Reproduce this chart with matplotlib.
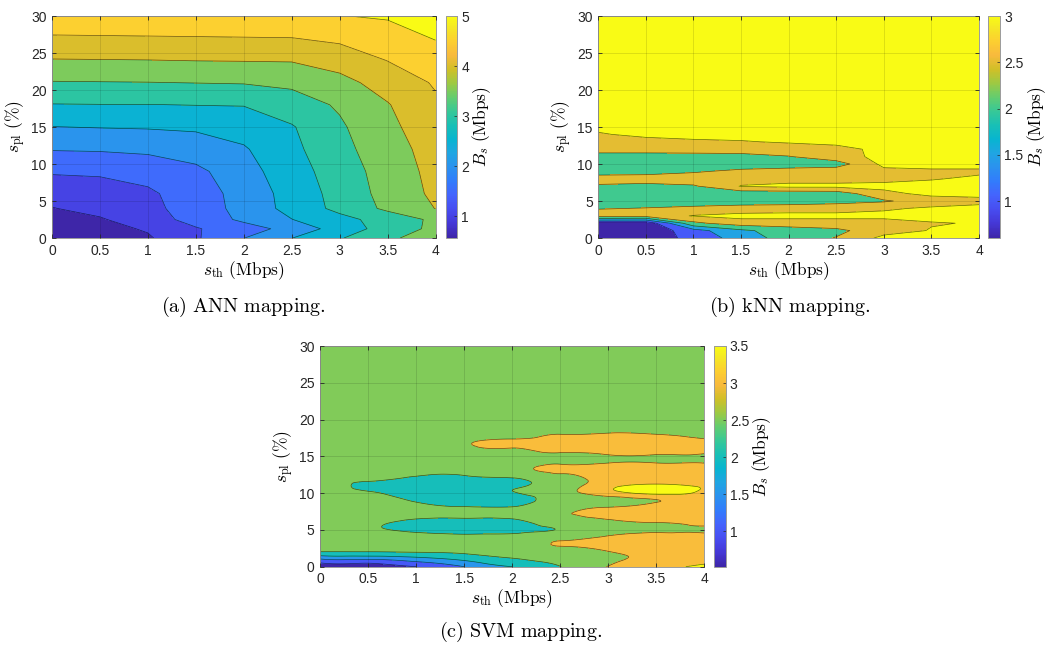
import matplotlib
matplotlib.use("Agg")
import matplotlib.pyplot as plt
import matplotlib.tri as mtri
import numpy as np
from matplotlib.colors import LinearSegmentedColormap, Normalize
from matplotlib.cm import ScalarMappable

plt.rcParams["mathtext.fontset"] = "cm"
plt.rcParams["font.family"] = ["Liberation Sans", "DejaVu Sans"]

# ---- data ----
sth = [0, 0.5, 1, 1.5, 2, 2.5, 3, 3.5, 4]  # s_th (Mbps), grid columns

# (a) ANN mapping
ann_spl = [0, 1.25, 2.5, 4, 6, 9, 12, 15, 18, 21, 24, 27, 30]
ann_bs = [
    [0.56, 0.75, 0.94, 1.44, 1.99, 2.49, 2.96, 3.40, 3.78],
    [0.69, 0.85, 1.05, 1.46, 1.78, 2.17, 2.72, 3.21, 3.62],
    [0.82, 0.95, 1.28, 1.67, 2.10, 2.49, 2.84, 3.21, 3.60],
    [0.98, 1.16, 1.38, 1.70, 2.18, 2.66, 3.14, 3.60, 4.01],
    [1.20, 1.28, 1.42, 1.75, 2.19, 2.69, 3.18, 3.67, 4.10],
    [1.55, 1.57, 1.68, 1.88, 2.31, 2.78, 3.25, 3.71, 4.15],
    [2.03, 2.05, 2.10, 2.25, 2.45, 2.88, 3.35, 3.79, 4.20],
    [2.49, 2.52, 2.54, 2.57, 2.70, 2.96, 3.43, 3.88, 4.30],
    [2.98, 2.99, 2.99, 3.01, 3.02, 3.27, 3.56, 3.97, 4.42],
    [3.47, 3.48, 3.49, 3.51, 3.53, 3.60, 3.85, 4.20, 4.55],
    [3.97, 3.98, 3.99, 4.01, 4.02, 4.03, 4.20, 4.51, 4.80],
    [4.44, 4.45, 4.46, 4.47, 4.48, 4.49, 4.60, 4.82, 5.02],
    [4.85, 4.86, 4.87, 4.88, 4.90, 4.94, 4.99, 5.04, 5.10],
]

# (b) kNN mapping
knn_spl = [0, 1, 2, 3, 4, 5, 6, 7, 8, 9, 10, 11, 12, 13, 14, 15, 30]
knn_bs = [
    [0.60, 0.60, 1.20, 1.70, 2.25, 2.52, 3.00, 3.00, 3.00],
    [0.60, 0.60, 1.30, 1.90, 2.25, 2.40, 2.75, 2.92, 3.00],
    [0.60, 0.60, 2.40, 2.75, 2.75, 2.75, 2.75, 2.88, 2.92],
    [2.75, 2.70, 2.92, 3.00, 3.00, 3.00, 3.00, 3.00, 3.00],
    [2.47, 2.52, 2.60, 2.70, 2.75, 2.75, 2.85, 2.95, 3.00],
    [2.25, 2.25, 2.25, 2.25, 2.25, 2.35, 2.45, 2.70, 2.80],
    [2.25, 2.25, 2.25, 2.25, 2.25, 2.28, 2.80, 3.00, 3.00],
    [2.42, 2.35, 2.45, 2.92, 3.00, 3.00, 3.00, 3.00, 3.00],
    [2.75, 2.75, 2.75, 2.75, 2.75, 2.75, 2.80, 2.88, 2.95],
    [2.25, 2.30, 2.45, 2.60, 2.70, 2.75, 2.80, 2.85, 2.85],
    [2.25, 2.25, 2.25, 2.25, 2.25, 2.30, 3.00, 3.00, 3.00],
    [2.25, 2.25, 2.28, 2.32, 2.48, 2.75, 3.00, 3.00, 3.00],
    [2.75, 2.75, 2.75, 2.75, 2.75, 2.78, 3.00, 3.00, 3.00],
    [2.75, 2.75, 2.85, 2.88, 2.93, 3.00, 3.00, 3.00, 3.00],
    [2.86, 3.00, 3.00, 3.00, 3.00, 3.00, 3.00, 3.00, 3.00],
    [3.00, 3.00, 3.00, 3.00, 3.00, 3.00, 3.00, 3.00, 3.00],
    [3.00, 3.00, 3.00, 3.00, 3.00, 3.00, 3.00, 3.00, 3.00],
]

# (c) SVM mapping
svm_spl = [0, 1, 2, 3, 4, 5, 6, 7, 8, 9, 10, 11, 12, 13, 14, 15, 16, 17, 18, 19, 20, 25, 30]
svm_bs = [
    [0.52, 0.70, 1.00, 1.50, 2.00, 2.49, 3.02, 3.30, 3.70],
    [1.45, 1.50, 1.75, 2.10, 2.45, 2.65, 2.90, 3.10, 3.20],
    [2.48, 2.48, 2.52, 2.58, 2.68, 2.85, 2.98, 3.15, 3.20],
    [2.65, 2.67, 2.70, 2.72, 2.80, 3.02, 3.15, 3.20, 3.20],
    [2.70, 2.68, 2.63, 2.60, 2.62, 2.85, 3.05, 3.12, 3.12],
    [2.72, 2.58, 2.42, 2.36, 2.40, 2.52, 2.88, 2.95, 2.95],
    [2.72, 2.58, 2.40, 2.35, 2.40, 2.70, 2.93, 3.00, 3.08],
    [2.72, 2.70, 2.62, 2.60, 2.62, 2.92, 3.12, 3.20, 3.20],
    [2.72, 2.70, 2.66, 2.55, 2.55, 2.82, 3.05, 3.20, 3.20],
    [2.70, 2.65, 2.45, 2.30, 2.30, 2.68, 2.65, 2.98, 3.20],
    [2.70, 2.55, 2.32, 2.28, 2.47, 2.80, 3.30, 3.62, 3.40],
    [2.65, 2.42, 2.30, 2.28, 2.42, 2.78, 3.35, 3.62, 3.40],
    [2.70, 2.60, 2.40, 2.38, 2.47, 2.88, 3.15, 3.25, 3.20],
    [2.70, 2.70, 2.70, 2.70, 2.88, 3.05, 3.15, 3.20, 3.15],
    [2.70, 2.70, 2.72, 2.75, 2.88, 2.99, 3.02, 3.02, 3.01],
    [2.72, 2.73, 2.75, 2.80, 2.85, 2.92, 2.96, 2.97, 2.95],
    [2.75, 2.75, 2.77, 2.88, 2.98, 3.10, 3.12, 3.12, 3.08],
    [2.75, 2.75, 2.78, 2.93, 3.05, 3.10, 3.12, 3.12, 3.05],
    [2.75, 2.75, 2.75, 2.77, 2.85, 3.00, 3.03, 3.00, 2.90],
    [2.75, 2.75, 2.75, 2.75, 2.77, 2.80, 2.82, 2.80, 2.78],
    [2.75, 2.75, 2.75, 2.75, 2.75, 2.75, 2.75, 2.75, 2.75],
    [2.75, 2.75, 2.75, 2.75, 2.75, 2.75, 2.75, 2.75, 2.75],
    [2.75, 2.75, 2.75, 2.75, 2.75, 2.75, 2.75, 2.75, 2.75],
]

# colour limits and contour levels (as on the colour bars)
ann_clim = (0.56, 5.0)
knn_clim = (0.6, 3.0)
svm_clim = (0.52, 3.5)
ann_levels = [1, 1.5, 2, 2.5, 3, 3.5, 4, 4.5, 5]
knn_levels = [1, 1.5, 2, 2.5, 2.9]
knn_band_lows = [1, 1.5, 2, 2.5, 3]
svm_levels = [1, 1.5, 2, 2.5, 3, 3.5]
ann_cticks = [1, 2, 3, 4, 5]
knn_cticks = [1, 1.5, 2, 2.5, 3]
svm_cticks = [1, 1.5, 2, 2.5, 3, 3.5]

# MATLAB parula (sampled)
parula_pts = [
    (0.2422, 0.1504, 0.6603), (0.2706, 0.2147, 0.8364), (0.2813, 0.3006, 0.9414),
    (0.2699, 0.3892, 0.9906), (0.1963, 0.4847, 0.9892), (0.1687, 0.5703, 0.9359),
    (0.1248, 0.6459, 0.8883), (0.0297, 0.7082, 0.8163), (0.0964, 0.7500, 0.7120),
    (0.2161, 0.7843, 0.5923), (0.3909, 0.8029, 0.4354), (0.6174, 0.7876, 0.2612),
    (0.8203, 0.7498, 0.1535), (0.9728, 0.7298, 0.2394), (0.9892, 0.8136, 0.1885),
    (0.9597, 0.9135, 0.1423), (0.9769, 0.9839, 0.0805),
]
pos = [i * 4 / 63 for i in range(16)] + [1.0]
parula = LinearSegmentedColormap.from_list("parula", list(zip(pos, parula_pts)))

W, H = 1047, 648
fig = plt.figure(figsize=(W / 100, H / 100), dpi=100)


def box(x0, y0, x1, y1):
    return [x0 / W, 1 - y1 / H, (x1 - x0) / W, (y1 - y0) / H]


def band_colors(lows, clim):
    norm = Normalize(*clim)
    return [parula(norm(v)) for v in [clim[0]] + list(lows)]


def style_axes(ax):
    ax.set_xlim(0, 4)
    ax.set_ylim(0, 30)
    ax.set_xticks(sth)
    ax.set_xticklabels(["0", "0.5", "1", "1.5", "2", "2.5", "3", "3.5", "4"])
    ax.set_yticks([0, 5, 10, 15, 20, 25, 30])
    ax.set_axisbelow(False)
    ax.grid(True, color="k", alpha=0.13, linewidth=0.6)
    ax.tick_params(direction="in", length=3, width=0.6, top=True, right=True,
                   labelsize=10, colors="#262626", pad=4)
    for s in ax.spines.values():
        s.set_color("#9a9a9a")
        s.set_linewidth(0.7)
    ax.set_xlabel(r"$s_{\mathrm{th}}\ \mathrm{(Mbps)}$", fontsize=12.5, labelpad=1)
    ax.set_ylabel(r"$s_{\mathrm{pl}}\ \mathrm{(\%)}$", fontsize=12.5, labelpad=2)


def add_cbar(cbox, clim, ticks):
    cax = fig.add_axes(cbox)
    sm = ScalarMappable(norm=Normalize(*clim), cmap=parula)
    cb = fig.colorbar(sm, cax=cax, ticks=ticks)
    cb.ax.set_yticklabels([("%g" % t) for t in ticks])
    cb.ax.tick_params(direction="in", length=2, width=0.5, labelsize=10,
                      colors="#262626", pad=3)
    cb.outline.set_edgecolor("#9a9a9a")
    cb.outline.set_linewidth(0.7)
    cb.set_label(r"$B_s\ \mathrm{(Mbps)}$", fontsize=12.5, labelpad=1)
    return cb


def filled(ax, X, Y, Z, levels, lows, clim):
    lv = [-10] + list(levels) + [20]
    ax.contourf(X, Y, Z, levels=lv, colors=band_colors(lows, clim), zorder=1)
    ax.contour(X, Y, Z, levels=levels, colors="k", linewidths=0.5, alpha=0.6, zorder=1.2)


# (a)
ax_a = fig.add_axes(box(52, 16, 435.5, 238))
Xa, Ya = np.meshgrid(sth, ann_spl)
filled(ax_a, Xa, Ya, np.array(ann_bs), ann_levels, ann_levels, ann_clim)
style_axes(ax_a)
add_cbar(box(446, 16, 457, 238), ann_clim, ann_cticks)

# (b)
ax_b = fig.add_axes(box(598.3, 16, 979, 238))
Xb, Yb = np.meshgrid(sth, knn_spl)
filled(ax_b, Xb, Yb, np.array(knn_bs), knn_levels, knn_band_lows, knn_clim)
style_axes(ax_b)
add_cbar(box(988.3, 16, 1000, 238), knn_clim, knn_cticks)

# (c) smooth surface: refine the read grid with matplotlib's cubic tri interpolator
ax_c = fig.add_axes(box(320, 346, 704.3, 566.7))
Xc, Yc = np.meshgrid(sth, svm_spl)
tri = mtri.Triangulation(Xc.ravel(), Yc.ravel())
tri_f, z_f = mtri.UniformTriRefiner(tri).refine_field(np.array(svm_bs).ravel(), subdiv=4)
lv = [-10] + svm_levels + [20]
ax_c.tricontourf(tri_f, z_f, levels=lv, colors=band_colors(svm_levels, svm_clim), zorder=1)
ax_c.tricontour(tri_f, z_f, levels=svm_levels, colors="k", linewidths=0.5, alpha=0.6, zorder=1.2)
style_axes(ax_c)
add_cbar(box(714.3, 346, 725.7, 566.7), svm_clim, svm_cticks)

# captions
cap_kw = dict(ha="center", va="center", fontsize=14.5)
fig.text(243 / W, 1 - 307 / H, r"$\mathrm{(a)\ ANN\ mapping.}$", **cap_kw)
fig.text(790 / W, 1 - 307 / H, r"$\mathrm{(b)\ kNN\ mapping.}$", **cap_kw)
fig.text(521 / W, 1 - 632 / H, r"$\mathrm{(c)\ SVM\ mapping.}$", **cap_kw)

fig.savefig("out.png", dpi=100)
